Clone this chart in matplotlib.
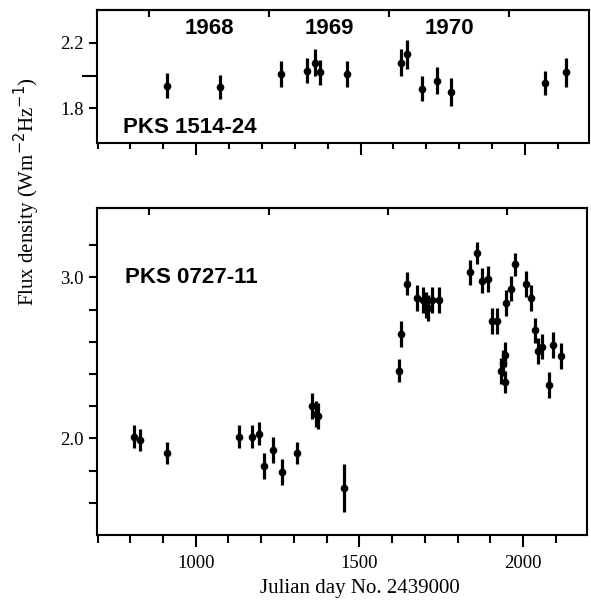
import numpy as np
import matplotlib
matplotlib.use("Agg")
import matplotlib.pyplot as plt
from matplotlib.ticker import MultipleLocator, FixedLocator

# --- data (Julian day - 2439000, flux density) ---
years = ["1968", "1969", "1970"]
year_starts = [856.5, 1222.5, 1587.5, 1952.5]   # JD of 1 Jan 1968 ... 1971

pks1514_day = [912, 1073, 1257, 1337, 1363, 1378, 1459, 1622, 1642, 1686, 1732, 1774, 2061, 2125]
pks1514_flux = [1.94, 1.93, 2.01, 2.03, 2.08, 2.02, 2.01, 2.08, 2.13, 1.92, 1.97, 1.90, 1.955, 2.02]
pks1514_err = [0.075, 0.075, 0.08, 0.075, 0.085, 0.075, 0.08, 0.08, 0.09, 0.075, 0.08, 0.085, 0.075, 0.09]

pks0727_day = [812, 831, 911, 1131, 1172, 1192, 1210, 1237, 1263, 1309, 1356, 1366, 1375, 1452,
               1620, 1626, 1645, 1675, 1693, 1703, 1711, 1723, 1744,
               1837, 1859, 1874, 1893, 1905, 1919, 1932, 1939, 1945, 1944, 1948, 1962, 1976,
               2010, 2025, 2036, 2047, 2059, 2079, 2092, 2115]
pks0727_flux = [2.01, 1.99, 1.91, 2.01, 2.01, 2.03, 1.83, 1.93, 1.79, 1.91, 2.20, 2.15, 2.14, 1.69,
                2.42, 2.65, 2.96, 2.87, 2.86, 2.83, 2.81, 2.86, 2.86,
                3.03, 3.15, 2.98, 2.99, 2.73, 2.73, 2.42, 2.47, 2.52, 2.35, 2.84, 2.93, 3.08,
                2.96, 2.87, 2.67, 2.54, 2.57, 2.33, 2.58, 2.51]
pks0727_err = [0.07, 0.07, 0.07, 0.07, 0.07, 0.07, 0.08, 0.08, 0.08, 0.07, 0.08, 0.08, 0.08, 0.15,
               0.07, 0.08, 0.07, 0.08, 0.08, 0.08, 0.08, 0.08, 0.08,
               0.08, 0.07, 0.08, 0.08, 0.08, 0.08, 0.08, 0.08, 0.08, 0.07, 0.08, 0.08, 0.07,
               0.08, 0.08, 0.08, 0.08, 0.08, 0.08, 0.08, 0.08]

plt.rcParams['font.family'] = ['Liberation Serif', 'DejaVu Serif']
plt.rcParams['axes.linewidth'] = 1.5

fig = plt.figure(figsize=(5.91, 6.0), dpi=100)
ax_top = fig.add_axes([0.164, 0.7617, 0.8325, 0.2217])
ax_bot = fig.add_axes([0.164, 0.1083, 0.829, 0.545])

err_style = dict(fmt='o', color='black', ms=4.5, elinewidth=2.3, capsize=0)
label_font = dict(family='Liberation Sans', weight='bold', fontsize=16)

for ax in (ax_top, ax_bot):
    ax.set_xlim(698, 2195)
    ax.xaxis.set_major_locator(MultipleLocator(500))
    ax.xaxis.set_minor_locator(MultipleLocator(100))
    ax.tick_params(axis='x', which='major', direction='out', length=8.5, width=1.5, pad=6)
    ax.tick_params(axis='y', which='both', direction='out', length=6, width=1.5, labelsize=13.5)
    ax.tick_params(axis='x', labelsize=13.5)
    # year boundaries marked on the top spine
    sec = ax.secondary_xaxis('top')
    sec.set_xticks(year_starts)
    sec.tick_params(direction='in', length=5, width=1.5, labeltop=False)

ax_top.tick_params(axis='x', which='minor', direction='out', length=4, width=1.5)
ax_bot.tick_params(axis='x', which='minor', direction='out', length=5.5, width=1.5)

# Top panel: PKS 1514-24
ax_top.errorbar(pks1514_day, pks1514_flux, yerr=pks1514_err, **err_style)
ax_top.set_ylim(1.59, 2.40)
ax_top.yaxis.set_major_locator(FixedLocator([1.8, 2.2]))
ax_top.yaxis.set_minor_locator(FixedLocator([2.0]))
ax_top.tick_params(axis='y', which='minor', length=11)
ax_top.set_yticklabels(['1.8', '2.2'])
ax_top.tick_params(axis='x', labelbottom=False)
ax_top.text(0.053, 0.113, 'PKS 1514-24', transform=ax_top.transAxes, va='center', **label_font)
for i, yr in enumerate(years):
    mid = (year_starts[i] + year_starts[i + 1]) / 2
    ax_top.text(mid, 0.861, yr, transform=ax_top.get_xaxis_transform(),
                ha='center', va='center', **label_font)

# Bottom panel: PKS 0727-11
ax_bot.errorbar(pks0727_day, pks0727_flux, yerr=pks0727_err, **err_style)
ax_bot.set_ylim(1.40, 3.43)
ax_bot.yaxis.set_major_locator(FixedLocator([2.0, 3.0]))
ax_bot.yaxis.set_minor_locator(FixedLocator([1.6, 1.8, 2.2, 2.4, 2.6, 2.8, 3.2]))
ax_bot.yaxis.set_major_formatter(plt.FormatStrFormatter('%.1f'))
ax_bot.text(0.057, 0.789, 'PKS 0727-11', transform=ax_bot.transAxes, va='center', **label_font)

fig.text(360 / 591, 1 - 588 / 600, 'Julian day No. 2439000', ha='center', va='center', fontsize=15)
fig.text(27 / 591, 1 - 192 / 600, 'Flux density (Wm$^{-2}$Hz$^{-1}$)', rotation=90,
         ha='center', va='center', fontsize=15)

fig.savefig('out.png', dpi=100)
